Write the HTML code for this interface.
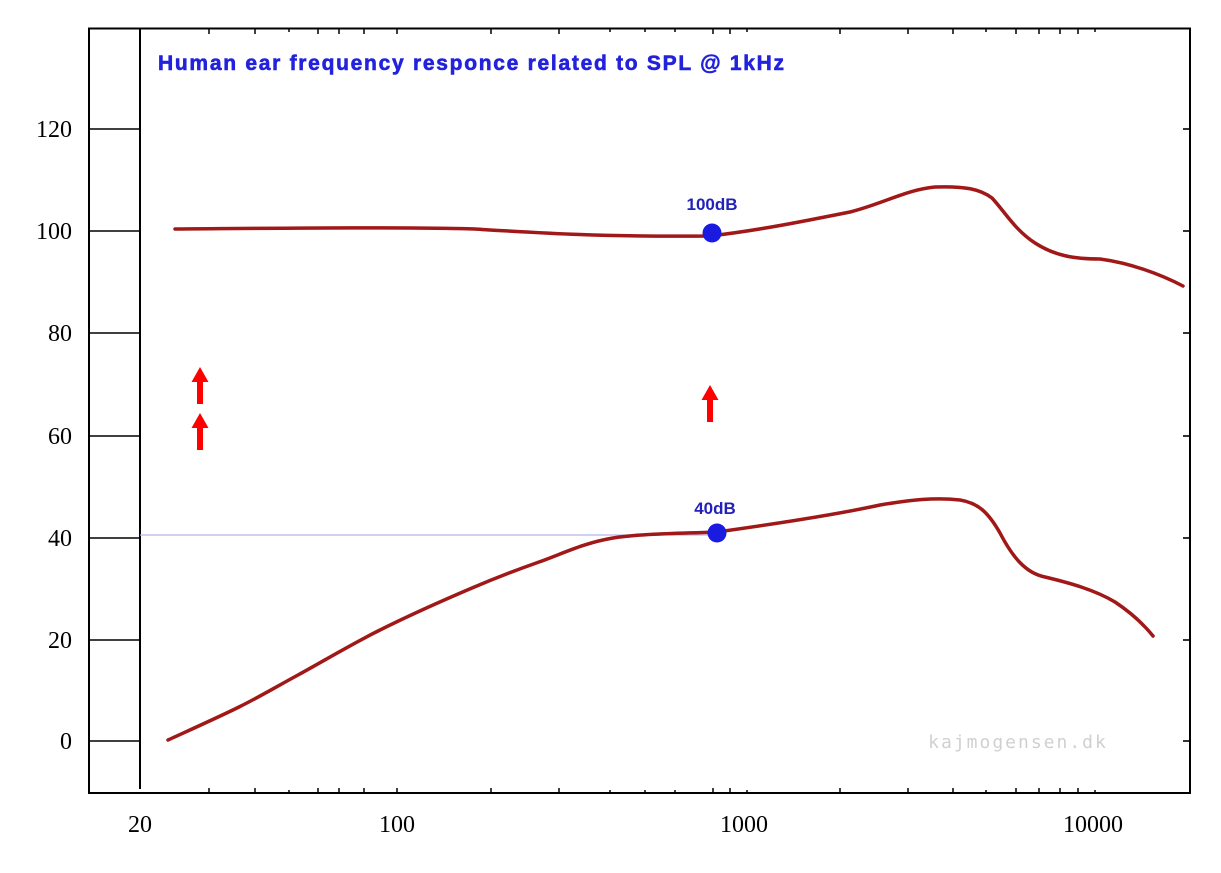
<!DOCTYPE html>
<html><head><meta charset="utf-8"><style>
body{margin:0;background:#fff}
svg{display:block}
</style></head><body>
<svg width="1221" height="873" viewBox="0 0 1221 873" xmlns="http://www.w3.org/2000/svg">
<rect width="1221" height="873" fill="#fff"/>
<rect x="89" y="28.5" width="1101" height="764.5" fill="none" stroke="#000" stroke-width="2"/>
<line x1="140" y1="28" x2="140" y2="789" stroke="#000" stroke-width="2"/>
<g stroke="#000" stroke-width="1.6">
<line x1="89" y1="129" x2="141" y2="129"/><line x1="89" y1="231" x2="141" y2="231"/>
<line x1="89" y1="333" x2="141" y2="333"/><line x1="89" y1="436" x2="141" y2="436"/>
<line x1="89" y1="538" x2="141" y2="538"/><line x1="89" y1="640" x2="141" y2="640"/>
<line x1="89" y1="741" x2="141" y2="741"/>
<line x1="1183" y1="129" x2="1190" y2="129"/><line x1="1183" y1="231" x2="1190" y2="231"/>
<line x1="1183" y1="333" x2="1190" y2="333"/><line x1="1183" y1="436" x2="1190" y2="436"/>
<line x1="1183" y1="538" x2="1190" y2="538"/><line x1="1183" y1="640" x2="1190" y2="640"/>
<line x1="1183" y1="741" x2="1190" y2="741"/>
</g>
<g stroke="#000" stroke-width="1.5">
<path d="M209 793v-5M255 793v-5M289 793v-3M318 793v-5M339 793v-5M364 793v-5M397 793v-5M491 793v-5M559 793v-5M610 793v-3M645 793v-3M675 793v-3M713 793v-5M730 793v-5M747 793v-3M840 793v-5M908 793v-5M953 793v-5M986 793v-3M1016 793v-5M1039 793v-5M1060 793v-5M1078 793v-5M1095 793v-3"/>
<path d="M209 29v5M255 29v5M289 29v3M318 29v5M339 29v5M364 29v5M397 29v5M491 29v5M559 29v5M610 29v3M645 29v3M675 29v3M713 29v5M730 29v5M747 29v3M840 29v5M908 29v5M953 29v5M986 29v3M1016 29v5M1039 29v5M1060 29v5M1078 29v5M1095 29v3"/>
</g>
<g font-family="Liberation Serif, serif" font-size="24" fill="#000" text-anchor="end">
<text x="72" y="137">120</text><text x="72" y="239">100</text><text x="72" y="341">80</text>
<text x="72" y="444">60</text><text x="72" y="546">40</text><text x="72" y="648">20</text>
<text x="72" y="749">0</text>
</g>
<g font-family="Liberation Serif, serif" font-size="24" fill="#000" text-anchor="middle">
<text x="140" y="832">20</text><text x="397" y="832">100</text><text x="744" y="832">1000</text><text x="1093" y="832">10000</text>
</g>
<text x="158" y="70" font-family="Liberation Sans, sans-serif" font-weight="bold" font-size="21" fill="#2222dd" stroke="#2222dd" stroke-width="0.6" textLength="626" lengthAdjust="spacing">Human ear frequency responce related to SPL @ 1kHz</text>
<line x1="140" y1="535" x2="717" y2="535" stroke="#b8b8e8" stroke-width="1.2"/>
<g fill="none" stroke="#a01818" stroke-width="3.5" stroke-linecap="round" stroke-linejoin="round">
<path d="M175 229 C300 228,420 227,475 229 C540 233,600 237,710 236 C760 230,800 222,850 212 C885 203,905 190,935 187 C965 186,980 189,992 198 C1005 212,1015 230,1035 243 C1055 256,1075 259,1100 259 C1130 263,1160 274,1183 286"/>
<path d="M168 740 C179.8 734.5,217.3 717.8,239 707 C260.7 696.2,274.5 687.8,298 675 C321.5 662.2,351 644.5,380 630 C409 615.5,445.5 599.3,472 588 C498.5 576.7,515.5 570.3,539 562 C562.5 553.7,583.3 543,613 538 C642.7 533,699.7 533,717 532 C760 526,830 516,880 505 C910 500,935 497,960 500 C978 503,988 512,1000 533 C1012 556,1025 573,1045 577 C1070 583,1095 590,1115 602 C1133 614,1145 626,1153 636"/>
</g>
<circle cx="712" cy="233" r="9.5" fill="#1a1ae0"/>
<circle cx="717" cy="533" r="9.5" fill="#1a1ae0"/>
<g font-family="Liberation Sans, sans-serif" font-weight="bold" font-size="17" fill="#2222bb" text-anchor="middle">
<text x="712" y="210">100dB</text><text x="715" y="514">40dB</text>
</g>
<g fill="#ff0000">
<path d="M197 404h6v-22h5.5l-8.5-15-8.5 15h5.5z"/>
<path d="M197 450h6v-22h5.5l-8.5-15-8.5 15h5.5z"/>
<path d="M707 422h6v-22h5.5l-8.5-15-8.5 15h5.5z"/>
</g>
<text x="1018" y="748" font-family="DejaVu Sans Mono, monospace" font-size="18" fill="#d0d0d0" text-anchor="middle" letter-spacing="2">kajmogensen.dk</text>
</svg>
</body></html>
